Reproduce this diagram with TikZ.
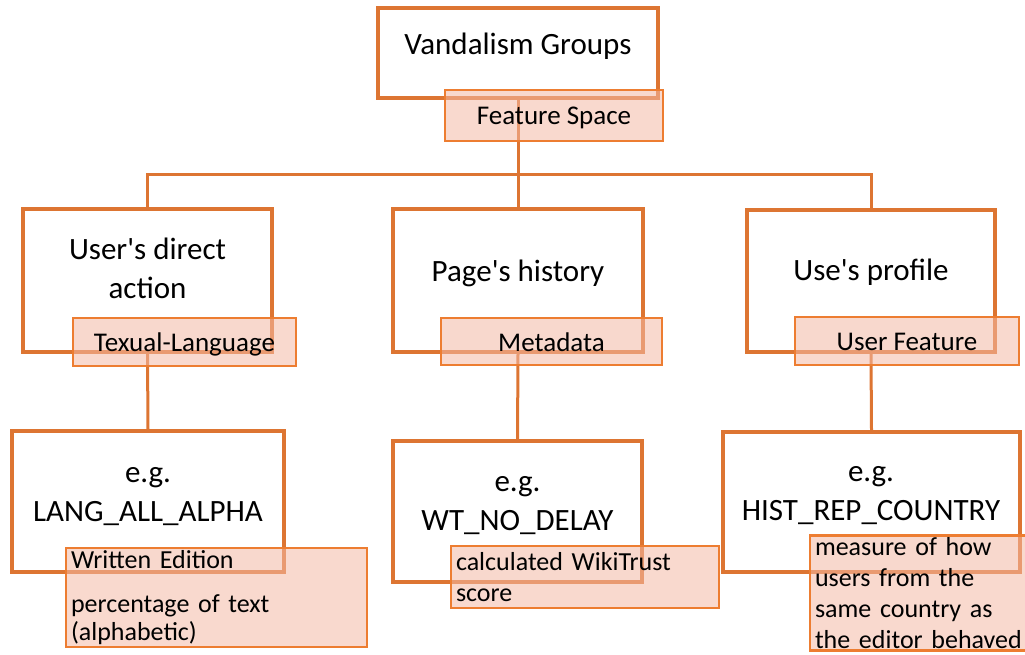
\documentclass[tikz,border=0pt]{standalone}
\usepackage{fontspec}
\setmainfont{Carlito}
\definecolor{boxc}{HTML}{DD7532}
\definecolor{tagc}{HTML}{ED7D31}
\definecolor{tagfill}{HTML}{F4B9A5}
\newcommand{\apos}{\textquotesingle}
\begin{document}
\begin{tikzpicture}[x=1pt,y=-1pt,
  box/.style={draw=boxc, line width=3.6pt, fill=white, rectangle, inner sep=0pt},
  tagbase/.style={draw=tagc, line width=2.2pt, fill=tagfill, fill opacity=0.55, draw opacity=1, text opacity=1, rectangle, inner sep=0pt},
  tag/.style={tagbase, font=\fontsize{27}{30}\selectfont, text height=21pt, text depth=2pt},
  note/.style={tagbase, align=left, font=\fontsize{26}{31}\selectfont, inner xsep=5pt},
  link/.style={draw=boxc, line width=3pt},
  big/.style={font=\fontsize{31}{39}\selectfont, align=center, inner sep=0pt}
]
\useasboundingbox (0,0) rectangle (1025,655);

% boxes
\node[box, minimum width=280pt, minimum height=90pt] (top) at (518,53) {};
\node[box, minimum width=249pt, minimum height=143pt] (b1) at (147.5,280.5) {};
\node[box, minimum width=250pt, minimum height=143pt] (b2) at (518,280.5) {};
\node[box, minimum width=248pt, minimum height=142pt] (b3) at (871,281) {};
\node[box, minimum width=272pt, minimum height=141pt] (c1) at (148,501.5) {};
\node[box, minimum width=249pt, minimum height=141pt] (c2) at (517.5,511.5) {};
\node[box, minimum width=297pt, minimum height=140pt] (c3) at (871.5,502) {};

% connectors
\coordinate (bus) at (518,175);
\draw[link] (top.south) -- (bus) -- (b2.north);
\draw[link] (b1.north) |- (bus) -| (b3.north);
\draw[link] (b1.south) -- (c1.north);
\draw[link] (b2.south) -- (c2.north);
\draw[link] (b3.south) -- (c3.north);

% box texts
\node[big, anchor=base] (ttop) at (518,55) {Vandalism Groups};
\node[big] (tb1) at (147.5,268.5) {User\apos s direct\\action};
\node[big, anchor=base] (tb2) at (518,281) {Page\apos s history};
\node[big, anchor=base] (tb3) at (871,280) {Use\apos s profile};
\node[big] (tc1) at (148,497) {e.g.\\LANG\_ALL\_ALPHA};
\node[big] (tc2) at (517.5,505.5) {e.g.\\WT\_NO\_DELAY};
\node[big] (tc3) at (871,496) {e.g.\\HIST\_REP\_COUNTRY};

% tags
\node[tag, minimum width=218pt, minimum height=51pt] (fs) at (554,115.5) {Feature Space};
\node[tag, minimum width=223pt, minimum height=48pt] (l1) at (184.5,342) {Texual-Language};
\node[tag, minimum width=221pt, minimum height=47pt] (l2) at (551.5,341.5) {Metadata};
\node[tag, minimum width=224pt, minimum height=48pt] (l3) at (907,341) {User Feature};

\node[note, minimum width=301pt, minimum height=99pt, text width=291pt] (m1) at (216.5,597.5)
  {Written Edition\\[13pt]percentage of text\\[-3pt](alphabetic)};
\node[note, minimum width=268pt, minimum height=62pt, text width=258pt] (m2) at (585,577)
  {calculated WikiTrust\\score};
\node[note, minimum width=217pt, minimum height=115pt, text width=207pt] (m3) at (918.5,593)
  {measure of how\\users from the\\same country as\\the editor behaved};
\end{tikzpicture}
\end{document}
